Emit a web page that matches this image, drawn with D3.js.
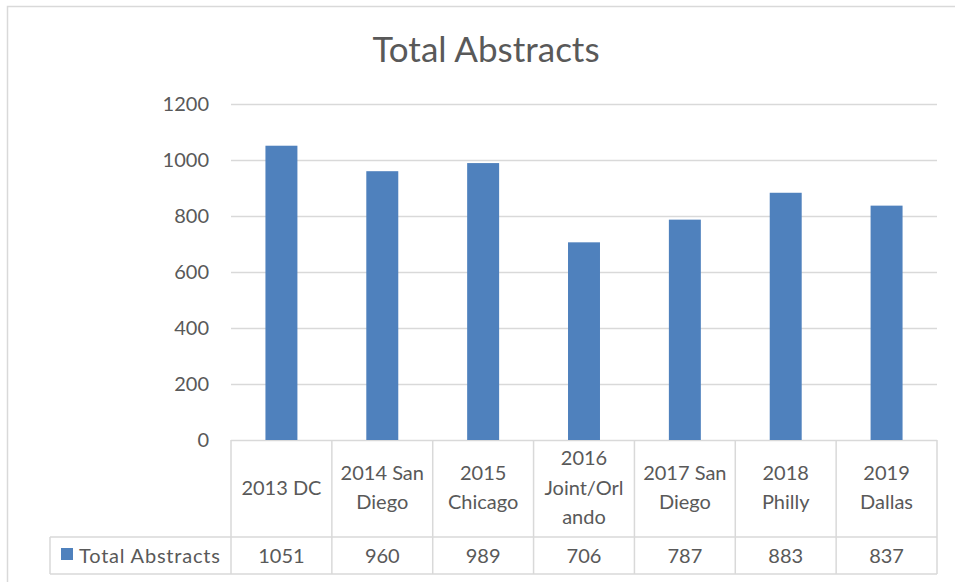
<!DOCTYPE html>
<html>
<head>
<meta charset="utf-8">
<script src="https://cdn.jsdelivr.net/npm/d3@7"></script>
<style>
  html, body { margin: 0; padding: 0; background: #fff; }
  svg text { font-family: Lato, "Open Sans", sans-serif; fill: #595959; }
</style>
</head>
<body>
<svg id="chart" width="955" height="582"></svg>
<script>
// data
const categories = ["2013 DC", "2014 San Diego", "2015 Chicago", "2016 Joint/Orlando",
  "2017 San Diego", "2018 Philly", "2019 Dallas"];
const headerLines = [["2013 DC"], ["2014 San", "Diego"], ["2015", "Chicago"], ["2016", "Joint/Orl", "ando"],
  ["2017 San", "Diego"], ["2018", "Philly"], ["2019", "Dallas"]];
const totalAbstracts = [1051, 960, 989, 706, 787, 883, 837];
const yTicks = [0, 200, 400, 600, 800, 1000, 1200];
const seriesName = "Total Abstracts";
const title = "Total Abstracts";

const svg = d3.select("#chart");
const gridColor = "#d9d9d9";
const barColor = "#4f81bd";
const fs = "20px";

// outer chart frame
svg.append("rect")
  .attr("x", 7.5).attr("y", 6.5)
  .attr("width", 1000).attr("height", 700)
  .attr("fill", "none")
  .attr("stroke", gridColor)
  .attr("stroke-width", 1.5);

const plot = {left: 231, right: 937, top: 104, bottom: 440};
const tableBottom = 574, rowSplit = 537, legendLeft = 50;

const x = d3.scaleBand()
  .domain(categories)
  .range([plot.left, plot.right])
  .padding(0);

const y = d3.scaleLinear()
  .domain([0, 1200])
  .range([plot.bottom, plot.top]);

// title
svg.append("text")
  .attr("x", 486).attr("y", 62)
  .attr("text-anchor", "middle")
  .style("font-size", "35px")
  .text(title);

// gridlines
svg.append("g")
  .selectAll("line")
  .data(yTicks)
  .join("line")
  .attr("x1", plot.left).attr("x2", plot.right)
  .attr("y1", d => Math.round(y(d)) + 0.5)
  .attr("y2", d => Math.round(y(d)) + 0.5)
  .attr("stroke", gridColor)
  .attr("stroke-width", 1.5);

// y axis labels
const yAxis = svg.append("g")
  .attr("transform", `translate(${plot.left}, 0)`)
  .call(d3.axisLeft(y).tickValues(yTicks).tickFormat(d3.format("d")).tickSize(0).tickPadding(22));
yAxis.select(".domain").remove();
yAxis.selectAll("text")
  .style("font-size", fs)
  .attr("fill", "#595959");

// bars
const barW = x.bandwidth() * 0.317;
svg.append("g")
  .selectAll("rect")
  .data(totalAbstracts)
  .join("rect")
  .attr("x", (d, i) => x(categories[i]) + (x.bandwidth() - barW) / 2)
  .attr("y", d => y(d))
  .attr("width", barW)
  .attr("height", d => y(0) - y(d))
  .attr("fill", barColor);

// data table
const table = svg.append("g")
  .attr("stroke", gridColor)
  .attr("stroke-width", 1.5);

const bounds = categories.map(c => x(c)).concat([plot.right]);
table.selectAll("line.v")
  .data(bounds)
  .join("line")
  .attr("class", "v")
  .attr("x1", d => d).attr("x2", d => d)
  .attr("y1", plot.bottom).attr("y2", tableBottom);

table.append("line")
  .attr("x1", legendLeft).attr("x2", plot.right)
  .attr("y1", rowSplit).attr("y2", rowSplit);
table.append("line")
  .attr("x1", legendLeft).attr("x2", plot.right)
  .attr("y1", tableBottom).attr("y2", tableBottom);
table.append("line")
  .attr("x1", legendLeft).attr("x2", legendLeft)
  .attr("y1", rowSplit).attr("y2", tableBottom);

// header labels
const lineH = 29.5;
const headerMid = 487.5;
svg.append("g")
  .selectAll("text")
  .data(headerLines)
  .join("text")
  .attr("text-anchor", "middle")
  .style("font-size", fs)
  .each(function(lines, i) {
    const cx = x(categories[i]) + x.bandwidth() / 2;
    const start = headerMid - (lines.length - 1) * lineH / 2;
    d3.select(this).selectAll("tspan")
      .data(lines)
      .join("tspan")
      .attr("x", cx)
      .attr("y", (l, j) => start + j * lineH)
      .attr("dy", "0.35em")
      .text(l => l);
  });

// values row
const valueMid = (rowSplit + tableBottom) / 2;
svg.append("g")
  .selectAll("text")
  .data(totalAbstracts)
  .join("text")
  .attr("x", (d, i) => x(categories[i]) + x.bandwidth() / 2)
  .attr("y", valueMid)
  .attr("dy", "0.35em")
  .attr("text-anchor", "middle")
  .style("font-size", fs)
  .text(d => d);

// legend key
svg.append("rect")
  .attr("x", 61).attr("y", 548)
  .attr("width", 12).attr("height", 12)
  .attr("fill", barColor);
svg.append("text")
  .attr("x", 79).attr("y", valueMid)
  .attr("dy", "0.35em")
  .style("font-size", fs)
  .style("letter-spacing", "0.8px")
  .text(seriesName);
</script>
</body>
</html>
